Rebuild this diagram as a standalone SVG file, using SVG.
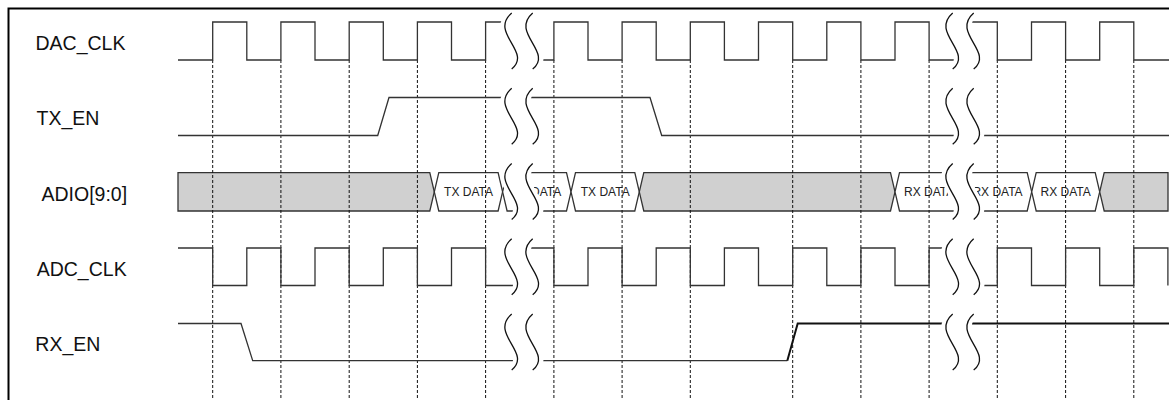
<svg xmlns="http://www.w3.org/2000/svg" xmlns:xlink="http://www.w3.org/1999/xlink" width="1169" height="400" viewBox="0 0 1169 400">
<style>
.lbl{font-family:"Liberation Sans",Arial,sans-serif;font-size:19.5px;fill:#111}
.dt{font-family:"Liberation Sans",Arial,sans-serif;font-size:12px;fill:#222;text-anchor:middle}
.sig{fill:none;stroke:#333;stroke-width:1.3}
.thick{fill:none;stroke:#111;stroke-width:2}
.grey{fill:#d0d0d0;stroke:#333;stroke-width:1.3}
.white{fill:#fff;stroke:#333;stroke-width:1.3}
.dash{fill:none;stroke:#111;stroke-width:1;stroke-dasharray:3,2}
.frame{fill:none;stroke:#000;stroke-width:2}
.wave{fill:none;stroke:#111;stroke-width:1.3}
</style>
<defs>
<g id="brk">
<path d="M-4.5,0 C-27.5,20 16.5,39 -4.5,56 L26,56 C47,39 3,20 26,0 Z" fill="#fff" stroke="none"/>
<path class="wave" d="M0,0 C-23,20 21,39 0,56"/>
<path class="wave" d="M21,0 C-2,20 42,39 21,56"/>
</g>
</defs>
<rect x="0" y="0" width="1169" height="400" fill="#fff"/>
<g id="frame"><path class="frame" d="M8.5,400 V8.5 H1169"/></g>
<g id="labels">
<text class="lbl" x="35.5" y="50">DAC_CLK</text>
<text class="lbl" x="36.5" y="125.25">TX_EN</text>
<text class="lbl" x="41.5" y="200.5">ADIO[9:0]</text>
<text class="lbl" x="36.7" y="275.75">ADC_CLK</text>
<text class="lbl" x="35.3" y="351">RX_EN</text>
</g>
<g id="sig-adio">
<polygon class="grey" points="178,172.7 429.8,172.7 434.3,191.85 429.8,211 178,211"/>
<polygon class="white" points="434.3,191.85 438.8,172.7 498.1,172.7 502.6,191.85 498.1,211 438.8,211"/>
<polygon class="white" points="502.6,191.85 507.1,172.7 566.5,172.7 571,191.85 566.5,211 507.1,211"/>
<polygon class="white" points="571,191.85 575.5,172.7 634.8,172.7 639.3,191.85 634.8,211 575.5,211"/>
<polygon class="grey" points="639.3,191.85 643.8,172.7 890.5,172.7 895,191.85 890.5,211 643.8,211"/>
<polygon class="white" points="895,191.85 899.5,172.7 958.8,172.7 963.3,191.85 958.8,211 899.5,211"/>
<polygon class="white" points="963.3,191.85 967.8,172.7 1027.2,172.7 1031.7,191.85 1027.2,211 967.8,211"/>
<polygon class="white" points="1031.7,191.85 1036.2,172.7 1095.2,172.7 1099.7,191.85 1095.2,211 1036.2,211"/>
<polygon class="grey" points="1099.7,191.85 1104.2,172.7 1168,172.7 1168,211 1104.2,211"/>
<text class="dt" x="468.5" y="196.3">TX DATA</text>
<text class="dt" x="536.8" y="196.3">TX DATA</text>
<text class="dt" x="605.2" y="196.3">TX DATA</text>
<text class="dt" x="929.1" y="196.3">RX DATA</text>
<text class="dt" x="997.5" y="196.3">RX DATA</text>
<text class="dt" x="1065.7" y="196.3">RX DATA</text>
</g>
<g id="connectors">
<path class="dash" d="M212.7,60 V400 M280.9,60 V400 M349.2,60 V400 M417.4,60 V400 M485.6,60 V400 M553.9,60 V400 M622.1,60 V400 M690.3,60 V400 M792.7,60 V400 M860.9,60 V400 M929.1,60 V400 M997.3,60 V400 M1065.6,60 V400 M1133.8,60 V400"/>
</g>
<g id="sig-dac_clk">
<path class="sig" d="M178,60 H212.7 V22 H246.8 V60 H280.9 V22 H315 V60 H349.2 V22 H383.3 V60 H417.4 V22 H451.5 V60 H485.6 V22 H519.7 V60 H553.9 V22 H588 V60 H622.1 V22 H656.2 V60 H690.3 V22 H724.4 V60 H758.5 V22 H792.7 V60 H826.8 V22 H860.9 V60 H895 V22 H929.1 V60 H963.2 V22 H997.3 V60 H1031.5 V22 H1065.6 V60 H1099.7 V22 H1133.8 V60 H1169"/>
</g>
<g id="sig-tx_en">
<path class="sig" d="M178,135.5 H377.7 L389,97.5 H650 L661.7,135.5 H1169"/>
</g>
<g id="sig-adc_clk">
<path class="sig" d="M178,248 H212.7 V285.5 H246.8 V248 H280.9 V285.5 H315 V248 H349.2 V285.5 H383.3 V248 H417.4 V285.5 H451.5 V248 H485.6 V285.5 H519.7 V248 H553.9 V285.5 H588 V248 H622.1 V285.5 H656.2 V248 H690.3 V285.5 H724.4 V248 H758.5 V285.5 H792.7 V248 H826.8 V285.5 H860.9 V248 H895 V285.5 H929.1 V248 H963.2 V285.5 H997.3 V248 H1031.5 V285.5 H1065.6 V248 H1099.7 V285.5 H1133.8 V248 H1167.9 V285.5"/>
</g>
<g id="sig-rx_en">
<path class="sig" d="M178,323.5 H241 L252.7,360.7 H787.3"/>
<path class="thick" d="M787.3,360.7 L797.7,323.5 H1169"/>
</g>
<g id="breaks">
<use xlink:href="#brk" x="511.7" y="13"/>
<use xlink:href="#brk" x="511.7" y="88.25"/>
<use xlink:href="#brk" x="511.7" y="163.5"/>
<use xlink:href="#brk" x="511.7" y="238.75"/>
<use xlink:href="#brk" x="511.7" y="314"/>
<use xlink:href="#brk" x="952.7" y="13"/>
<use xlink:href="#brk" x="952.7" y="88.25"/>
<use xlink:href="#brk" x="952.7" y="163.5"/>
<use xlink:href="#brk" x="952.7" y="238.75"/>
<use xlink:href="#brk" x="952.7" y="314"/>
</g>
</svg>
